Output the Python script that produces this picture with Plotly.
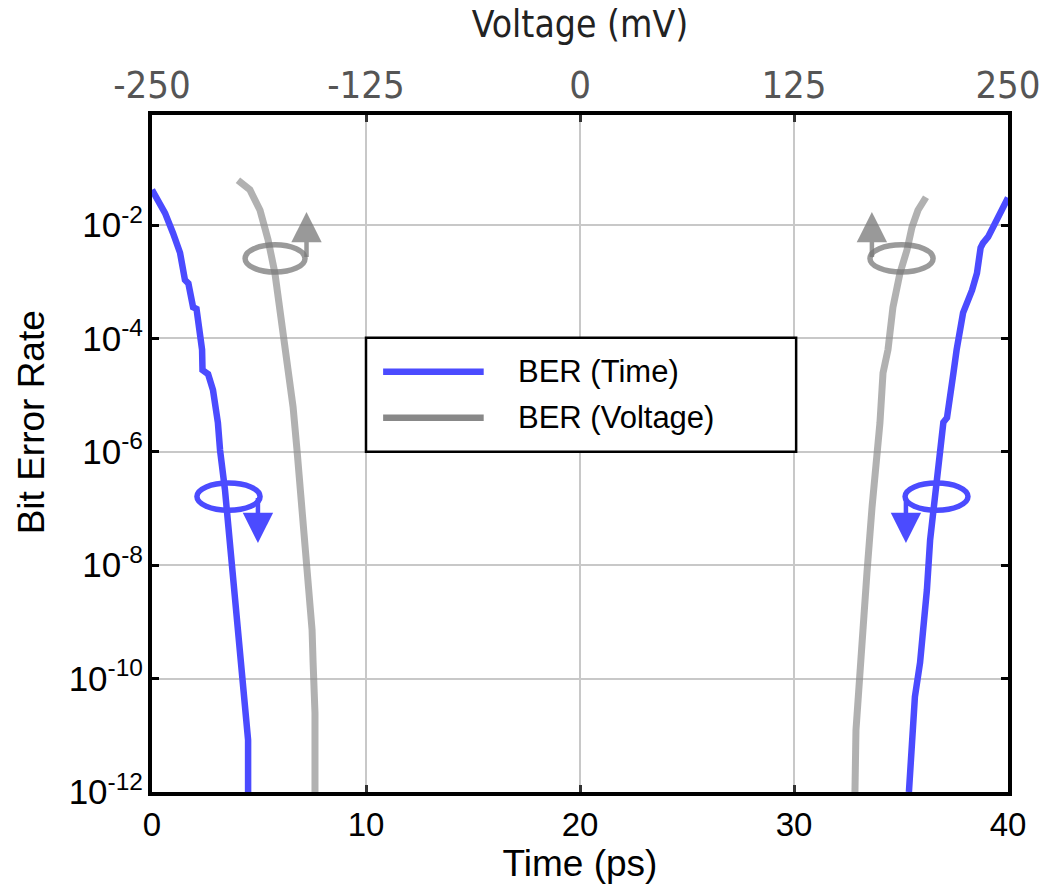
import plotly.graph_objects as go

# ---- data -------------------------------------------------------------
# BER vs. sampling time (ps): left and right edges of the eye
time_left_ps = [0.0, 0.61, 0.98, 1.31, 1.54, 1.70, 1.92, 2.08, 2.34, 2.36, 2.62, 2.85,
                3.08, 3.18, 3.41, 3.64, 3.88, 4.02, 4.25, 4.49, 4.49]
ber_time_left_log = [-1.38, -1.79, -2.14, -2.49, -2.97, -3.03, -3.45, -3.48, -4.20, -4.56,
                     -4.63, -4.91, -5.49, -5.97, -6.67, -7.56, -8.44, -9.02, -9.97, -11.08, -12.0]

time_right_ps = [40.0, 39.63, 39.25, 39.07, 38.83, 38.72, 38.55, 38.32, 37.90, 37.76, 37.60,
                 37.45, 37.29, 37.15, 36.98, 36.82, 36.59, 36.36, 36.21, 35.89, 35.65, 35.51, 35.37]
ber_time_right_log = [-1.52, -1.79, -2.04, -2.21, -2.32, -2.40, -2.85, -3.15, -3.55, -3.80, -4.20,
                      -4.61, -5.09, -5.40, -5.48, -5.97, -6.67, -7.56, -8.44, -9.72, -10.32, -11.21, -12.0]

# BER vs. decision threshold voltage (mV): lower and upper edges of the eye
volt_low_mv = [-199.8, -192.8, -186.9, -182.2, -178.2, -173.5, -169.4, -167.6, -165.3,
               -162.4, -159.5, -156.5, -155.9, -154.8, -154.8]
ber_volt_low_log = [-1.21, -1.38, -1.74, -2.26, -2.85, -3.90, -4.61, -5.21, -5.97,
                    -6.97, -8.14, -9.14, -9.72, -10.61, -12.0]

volt_high_mv = [202.1, 197.4, 193.9, 191.0, 186.9, 182.8, 179.9, 177.0, 175.2, 173.5,
                170.6, 167.6, 164.7, 162.4, 161.2, 160.6]
ber_volt_high_log = [-1.51, -1.74, -2.04, -2.44, -2.85, -3.45, -4.20, -4.61, -5.49, -5.97,
                     -6.97, -8.14, -9.44, -10.02, -10.91, -12.0]

ber_tick_exponents = [-2, -4, -6, -8, -10, -12]
time_ticks = [0, 10, 20, 30, 40]
volt_ticks = [-250, -125, 0, 125, 250]
volt_tick_labels = ["-250", "-125", "0", "125", "250"]

series_names = ["BER (Time)", "BER (Voltage)"]

# ---- styling ------------------------------------------------------------
BLUE = "#4b4bff"
GRAY_CURVE = "rgba(140,140,140,0.68)"
GRAY_MARK = "rgba(120,120,120,0.75)"
FONT = "Liberation Sans, Arial, sans-serif"
NARROW = "DejaVu Sans Condensed, Liberation Sans Narrow, Arial Narrow, sans-serif"


def to_ber(logs):
    return [10 ** v for v in logs]


fig = go.Figure()

fig.add_trace(go.Scatter(x=time_left_ps, y=to_ber(ber_time_left_log), mode="lines",
                         line=dict(color=BLUE, width=6.5), name=series_names[0],
                         showlegend=False, xaxis="x", yaxis="y"))
fig.add_trace(go.Scatter(x=time_right_ps, y=to_ber(ber_time_right_log), mode="lines",
                         line=dict(color=BLUE, width=6.5), name=series_names[0],
                         showlegend=False, xaxis="x", yaxis="y"))
fig.add_trace(go.Scatter(x=volt_low_mv, y=to_ber(ber_volt_low_log), mode="lines",
                         line=dict(color=GRAY_CURVE, width=7), name=series_names[1],
                         showlegend=False, xaxis="x2", yaxis="y"))
fig.add_trace(go.Scatter(x=volt_high_mv, y=to_ber(ber_volt_high_log), mode="lines",
                         line=dict(color=GRAY_CURVE, width=7), name=series_names[1],
                         showlegend=False, xaxis="x2", yaxis="y"))

shapes = []
annotations = []

# axis-pointer markers: an ellipse around the curve and an arrow toward its axis
# (x in ps, y as log10 BER)
pointers = [
    # (x0, x1, y0, y1, arrow_x, arrow_tail_y, arrow_head_y, color)
    (4.35, 7.15, -2.83, -2.35, 7.22, -2.59, -1.77, GRAY_MARK),
    (33.55, 36.50, -2.83, -2.35, 33.64, -2.59, -1.77, GRAY_MARK),
    (2.10, 5.05, -7.03, -6.55, 4.95, -6.79, -7.61, BLUE),
    (35.19, 38.13, -7.03, -6.55, 35.23, -6.79, -7.61, BLUE),
]
for x0, x1, y0, y1, axp, tail, head, col in pointers:
    shapes.append(dict(type="circle", xref="x", yref="y", x0=x0, x1=x1,
                       y0=10 ** y0, y1=10 ** y1,
                       line=dict(color=col, width=5.5), fillcolor="rgba(0,0,0,0)",
                       layer="above"))
    annotations.append(dict(x=axp, y=head, ax=axp, ay=tail, xref="x", yref="y",
                            axref="x", ayref="y", text="", showarrow=True,
                            arrowhead=2, arrowsize=1.35, arrowwidth=4.5, arrowcolor=col))

# legend box (x in ps, y as log10 BER)
shapes.append(dict(type="rect", xref="x", yref="y", x0=10.0, x1=30.1,
                   y0=10 ** -6.0, y1=10 ** -3.99,
                   line=dict(color="black", width=2.5), fillcolor="white", layer="above"))
legend_rows = [(-4.59, BLUE), (-5.40, "#888888")]
for (ly, col), name in zip(legend_rows, series_names):
    shapes.append(dict(type="line", xref="x", yref="y", x0=10.8, x1=15.5,
                       y0=10 ** ly, y1=10 ** ly,
                       line=dict(color=col, width=6.5), layer="above"))
    annotations.append(dict(x=17.0, y=ly, xref="x", yref="y", text=name, showarrow=False,
                            xanchor="left", yanchor="middle",
                            font=dict(family=FONT, size=31, color="black")))

# left axis title
annotations.append(dict(x=-0.141, y=0.5465, xref="paper", yref="paper", text="Bit Error Rate",
                        textangle=-90, showarrow=False, xanchor="center", yanchor="middle",
                        font=dict(family=FONT, size=37, color="black")))

fig.update_layout(
    width=1050, height=888,
    margin=dict(l=152, r=42, t=115, b=96, autoexpand=False),
    paper_bgcolor="white", plot_bgcolor="white",
    font=dict(family=FONT, color="black"),
    showlegend=False,
    shapes=shapes,
    annotations=annotations,
    xaxis=dict(
        range=[0, 40], tickvals=time_ticks, ticks="inside", ticklen=7, tickwidth=3,
        tickcolor="#333333", showline=True, linecolor="black", linewidth=4, mirror=True,
        showgrid=True, gridcolor="#c8c8c8", gridwidth=1.5, zeroline=False,
        tickfont=dict(family=FONT, size=33, color="black"),
        title=dict(text="Time (ps)", font=dict(family=FONT, size=37, color="black"),
                   standoff=0),
        automargin=False,
    ),
    xaxis2=dict(
        range=[-250, 250], tickvals=volt_ticks, ticktext=volt_tick_labels,
        overlaying="x", side="top",
        ticks="inside", ticklen=7, tickwidth=3, tickcolor="#333333",
        showline=False, showgrid=False, zeroline=False,
        tickfont=dict(family=NARROW, size=38, color="#555555"),
        ticklabelstandoff=8,
        title=dict(text="Voltage (mV)", font=dict(family=NARROW, size=37, color="#222222"),
                   standoff=14),
        automargin=False,
    ),
    yaxis=dict(
        type="log", range=[-12, -0.06],
        tickvals=[10 ** e for e in ber_tick_exponents],
        ticktext=[f"10<sup>{e}</sup>" for e in ber_tick_exponents],
        ticks="inside", ticklen=7, tickwidth=3, tickcolor="black",
        showline=True, linecolor="black", linewidth=4, mirror="ticks",
        showgrid=True, gridcolor="#c8c8c8", gridwidth=1.5, zeroline=False,
        tickfont=dict(family=FONT, size=35, color="black"),
        ticklabelstandoff=-2,
        automargin=False,
    ),
)

fig.write_html("out.html")
